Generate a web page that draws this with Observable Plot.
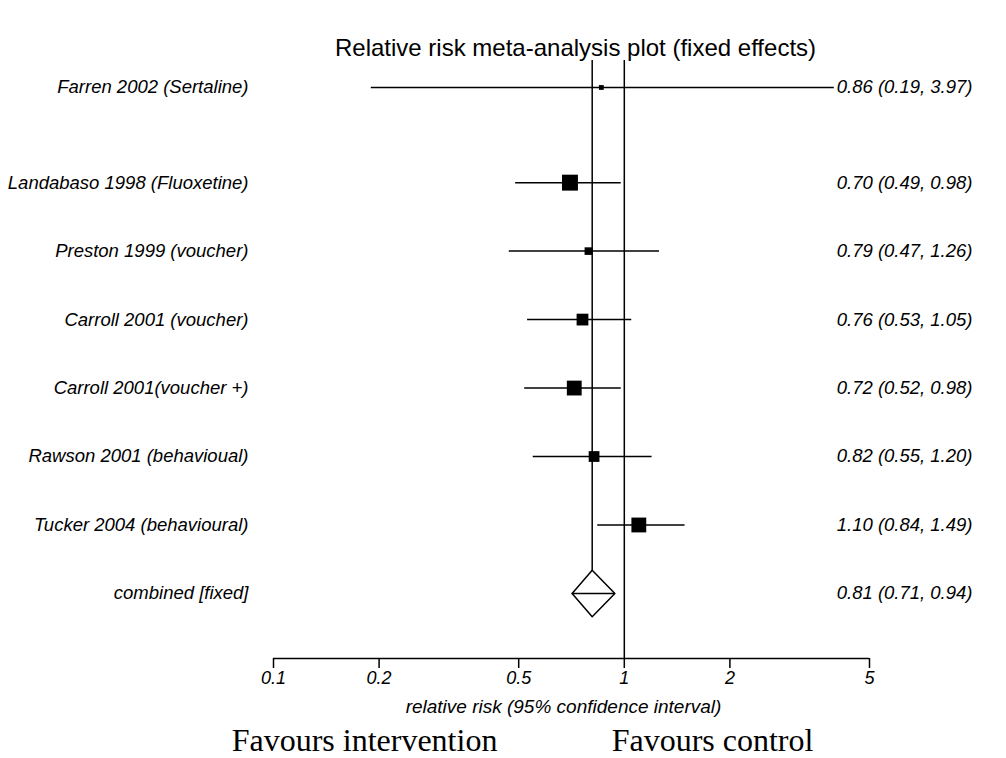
<!DOCTYPE html>
<html>
<head>
<meta charset="utf-8">
<script src="https://cdn.jsdelivr.net/npm/d3@7"></script>
<script src="https://cdn.jsdelivr.net/npm/@observablehq/plot@0.6"></script>
<style>
  body { margin: 0; background: #fff; }
</style>
</head>
<body>
<div id="chart"></div>
<script>
const studies = [
  "Farren 2002 (Sertaline)",
  "Landabaso 1998 (Fluoxetine)",
  "Preston 1999 (voucher)",
  "Carroll 2001 (voucher)",
  "Carroll 2001(voucher +)",
  "Rawson 2001 (behavioual)",
  "Tucker 2004 (behavioural)",
];
const rr = [0.86, 0.7, 0.79, 0.76, 0.72, 0.82, 1.1];
const lower = [0.19, 0.49, 0.47, 0.53, 0.52, 0.55, 0.84];
const upper = [3.97, 0.98, 1.26, 1.05, 0.98, 1.2, 1.49];
const weights = [2, 22, 5, 12, 19, 10, 19];
const combined = { label: "combined [fixed]", rr: 0.81, lo: 0.71, hi: 0.94 };
const ticks = [0.1, 0.2, 0.5, 1, 2, 5];

// first row sits a little further from the rest
const rowPos = (i) => (i === 0 ? 0 : i + 0.39);

const rows = studies.map((s, i) => ({
  label: s, row: rowPos(i), rr: rr[i], lo: lower[i], hi: upper[i], w: weights[i],
}));
const comboRow = rowPos(studies.length);
const allRows = [...rows, { label: combined.label, row: comboRow, rr: combined.rr, lo: combined.lo, hi: combined.hi }];
const fmt = (d) => `${d.rr.toFixed(2)} (${d.lo.toFixed(2)}, ${d.hi.toFixed(2)})`;

// diamond for pooled estimate
const dh = 0.34;
const diamond = [
  { x: combined.lo, y: comboRow },
  { x: combined.rr, y: comboRow - dh },
  { x: combined.hi, y: comboRow },
  { x: combined.rr, y: comboRow + dh },
  { x: combined.lo, y: comboRow },
];

const yTop = -0.394, yBottom = 8.34;
const font = "Liberation Sans, Arial, sans-serif";

const plot = Plot.plot({
  width: 1006,
  height: 758,
  marginLeft: 273,
  marginRight: 137,
  marginTop: 60,
  marginBottom: 100,
  style: { fontFamily: font, fontSize: "18px", background: "#fff", color: "#000" },
  x: { type: "log", domain: [0.1, 5], label: null },
  y: { domain: [yTop, yBottom], reverse: true, axis: null },
  r: { type: "sqrt", domain: [0, 22], range: [0, 9] },
  marks: [
    Plot.ruleY([yBottom], { x1: 0.1, x2: 5, stroke: "#000", strokeWidth: 1.5 }),
    Plot.axisX({
      ticks, tickSize: 10, tickFormat: (d) => String(d), fontStyle: "italic",
      fontSize: 18, tickPadding: 3, stroke: "#000", strokeWidth: 1.5,
    }),
    Plot.ruleX([1], { stroke: "#000", strokeWidth: 1.5 }),
    Plot.ruleX([combined.rr], { y1: yTop, y2: comboRow, stroke: "#000", strokeWidth: 1.5 }),
    Plot.ruleY(rows, { y: "row", x1: "lo", x2: "hi", stroke: "#000", strokeWidth: 1.5 }),
    Plot.dot(rows, { x: "rr", y: "row", r: "w", symbol: "square", fill: "#000" }),
    Plot.line(diamond, { x: "x", y: "y", stroke: "#000", strokeWidth: 1.5, fill: "#fff" }),
    Plot.ruleY([comboRow], { x1: combined.lo, x2: combined.hi, stroke: "#000", strokeWidth: 1.5 }),
    Plot.text(allRows, { y: "row", text: "label", frameAnchor: "left", dx: -25, textAnchor: "end", fontStyle: "italic", fontSize: 18.5 }),
    Plot.text(allRows, { y: "row", text: fmt, frameAnchor: "right", dx: 103, textAnchor: "end", fontStyle: "italic", fontSize: 18.5 }),
    Plot.text(["Relative risk meta-analysis plot (fixed effects)"], { frameAnchor: "top", dy: -22, dx: 4, fontSize: 24 }),
    Plot.text(["relative risk (95% confidence interval)"], { frameAnchor: "bottom", dy: 54, dx: -8, fontStyle: "italic", fontSize: 19 }),
    Plot.text(["Favours intervention"], { frameAnchor: "bottom-left", dx: 91, dy: 92, textAnchor: "middle", fontFamily: "Liberation Serif, serif", fontSize: 32 }),
    Plot.text(["Favours control"], { frameAnchor: "bottom-left", dx: 439, dy: 92, textAnchor: "middle", fontFamily: "Liberation Serif, serif", fontSize: 32 }),
  ],
});

document.getElementById("chart").appendChild(plot);
</script>
</body>
</html>
